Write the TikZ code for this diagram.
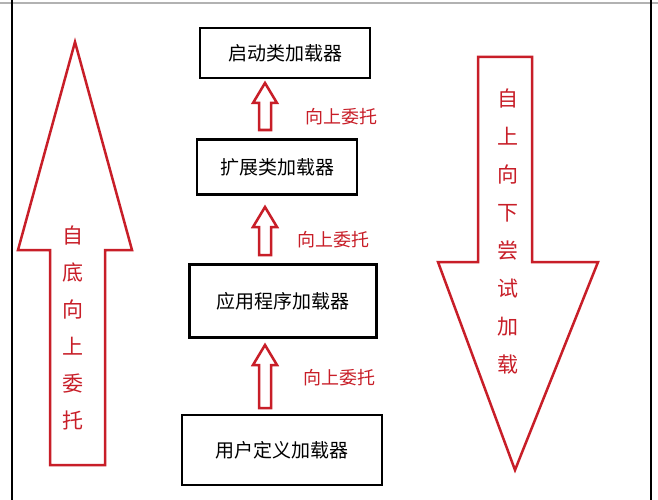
\documentclass[tikz,border=0pt]{standalone}
\usepackage{fontspec}
\setmainfont{Noto Sans CJK SC}
\definecolor{rd}{RGB}{200,30,40}
\begin{document}
\begin{tikzpicture}[x=1pt,y=-1pt,
  box/.style={draw=black,line width=2.5pt,minimum height=50pt,font=\fontsize{19}{22}\selectfont},
  arr/.style={draw=rd,line width=2.5pt,line join=miter},
  lab/.style={text=rd,font=\fontsize{18}{22}\selectfont}]
\useasboundingbox (0,0) rectangle (658,500);
\fill[white] (0,0) rectangle (658,500);
\draw[gray!60,line width=2pt] (0,3) -- (658,3);
\draw[line width=1.5pt] (12,0) -- (12,500);
\draw[line width=1.5pt] (651,0) -- (651,500);
% boxes
\node[box,minimum width=170pt,minimum height=50pt] (b1) at (285,53) {启动类加载器};
\node[box,minimum width=160pt,minimum height=55pt] (b2) at (277,167) {扩展类加载器};
\node[box,minimum width=187pt,minimum height=73pt] (b3) at (283,301) {应用程序加载器};
\node[box,minimum width=200pt,minimum height=70pt] (b4) at (282,450) {用户定义加载器};
% small arrows
\foreach \yt/\yb in {83/130, 207/255, 345/408}{
  \draw[arr] (259,\yb) -- (271,\yb) -- (271,\yt+20) -- (277,\yt+20) -- (265,\yt) -- (253,\yt+20) -- (259,\yt+20) -- cycle;
}
\node[lab] (l1) at (341,117) {向上委托};
\node[lab] (l2) at (333,240) {向上委托};
\node[lab] (l3) at (339,378) {向上委托};
% big left arrow
\draw[arr] (50,465) -- (105,465) -- (105,250) -- (132,250) -- (75,42) -- (18,250) -- (50,250) -- cycle;
\node[lab,align=center,font=\fontsize{21}{37}\selectfont] (lt) at (73,328) {自\\底\\向\\上\\委\\托};
% big right arrow
\draw[arr] (478,57) -- (532,57) -- (532,262) -- (598,262) -- (515,470) -- (438,262) -- (478,262) -- cycle;
\node[lab,align=center,font=\fontsize{21}{38}\selectfont] (rt) at (508,232) {自\\上\\向\\下\\尝\\试\\加\\载};
\end{tikzpicture}
\end{document}
